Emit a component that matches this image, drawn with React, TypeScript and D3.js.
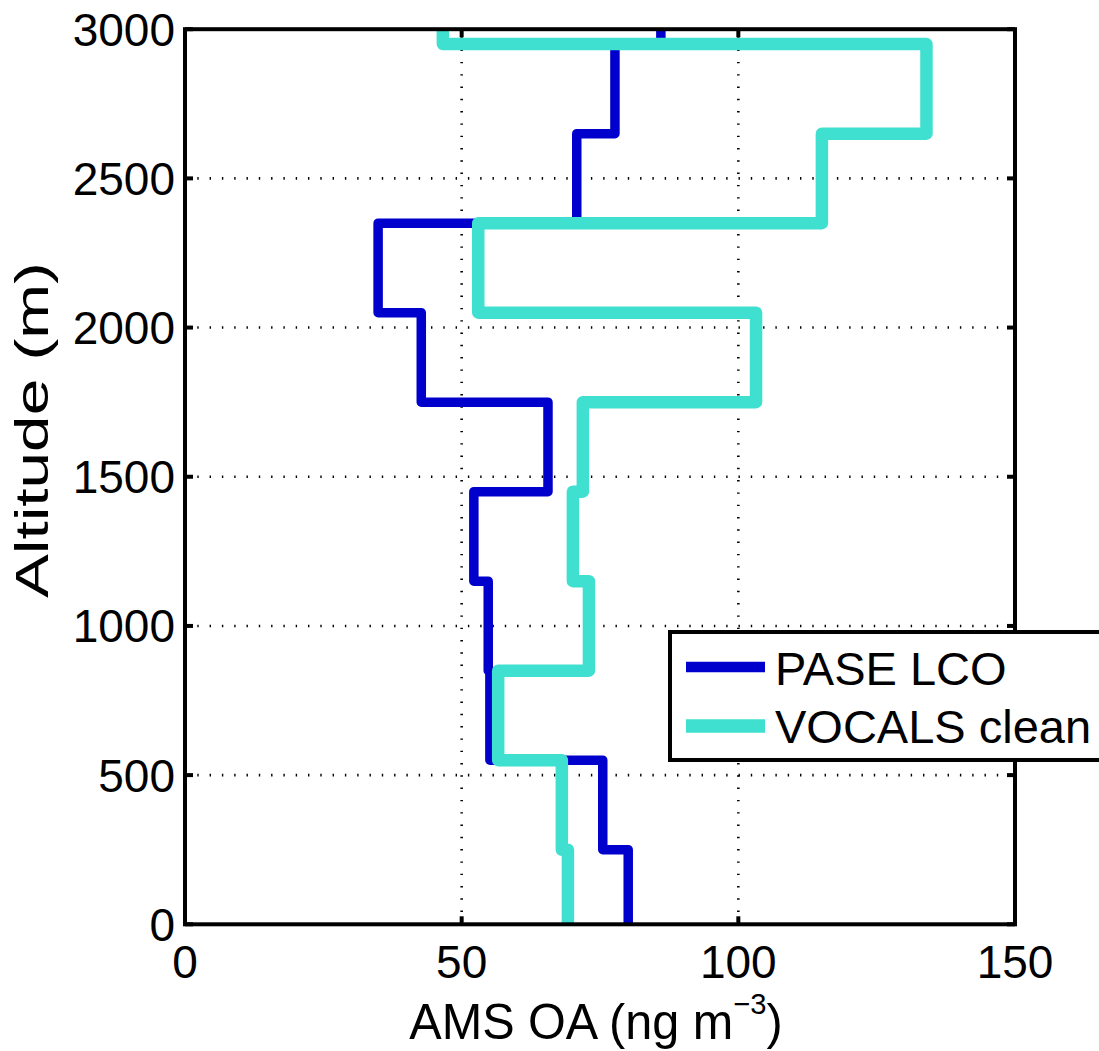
import React from 'react';
import * as d3 from 'd3';

// Altitude bin edges (m) and step values (ng m^-3) for each bin
const altitudeEdges = [0, 250, 550, 850, 1150, 1450, 1750, 2050, 2350, 2650, 2950, 3000];
const paseLCO = [80.1, 75.5, 55.1, 54.8, 52.2, 65.6, 42.7, 34.9, 70.8, 77.7, 86.0];
const vocalsClean = [69.2, 68.1, 56.6, 73.0, 70.1, 71.9, 103.2, 53.0, 115.1, 134.0, 46.6];
const xTicks = [0, 50, 100, 150];
const yTicks = [0, 500, 1000, 1500, 2000, 2500, 3000];
const seriesNames = ['PASE LCO', 'VOCALS clean'];
const seriesColors = ['#0000CD', '#40E0D0'];

const W = 1099;
const H = 1051;
const L = 185, R = 1015, T = 29.2, B = 924.3;
const FONT = '"Liberation Sans", Arial, Helvetica, sans-serif';

export default function App() {
  const x = d3.scaleLinear().domain([0, 150]).range([L, R]);
  const y = d3.scaleLinear().domain([0, 3000]).range([B, T]);

  const stairs = (vals: number[]) => {
    const pts: [number, number][] = [];
    vals.forEach((v, i) => {
      pts.push([v, altitudeEdges[i]]);
      pts.push([v, altitudeEdges[i + 1]]);
    });
    return d3.line<[number, number]>().x(d => x(d[0])).y(d => y(d[1]))(pts) || '';
  };

  const tickLen = 8;
  const widths = [9.5, 12.5];

  return (
    <svg width={W} height={H} style={{ position: 'absolute', left: 0, top: 0, background: '#fff' }}
      fontFamily={FONT}>
      <defs>
        <clipPath id="plotClip">
          <rect x={L} y={T} width={R - L} height={B - T} />
        </clipPath>
      </defs>
      <rect x={0} y={0} width={W} height={H} fill="#fff" />
      {/* grid */}
      <g stroke="#000" strokeWidth={2.6} strokeDasharray="1.4 10.9">
        {xTicks.slice(1, -1).map(t => (
          <line key={'gx' + t} x1={x(t)} x2={x(t)} y1={B} y2={T} />
        ))}
        {yTicks.slice(1, -1).map(t => (
          <line key={'gy' + t} x1={L} x2={R} y1={y(t)} y2={y(t)} />
        ))}
      </g>
      {/* data */}
      <g clipPath="url(#plotClip)" fill="none" strokeLinejoin="round" strokeLinecap="round">
        <path d={stairs(paseLCO)} stroke={seriesColors[0]} strokeWidth={widths[0]} />
        <path d={stairs(vocalsClean)} stroke={seriesColors[1]} strokeWidth={widths[1]} />
      </g>
      {/* axes box and ticks */}
      <g stroke="#000" strokeWidth={4}>
        <rect x={L} y={T} width={R - L} height={B - T} fill="none" />
        {xTicks.map(t => (
          <g key={'tx' + t}>
            <line x1={x(t)} x2={x(t)} y1={B} y2={B - tickLen} />
            <line x1={x(t)} x2={x(t)} y1={T} y2={T + tickLen} />
          </g>
        ))}
        {yTicks.map(t => (
          <g key={'ty' + t}>
            <line x1={L} x2={L + tickLen} y1={y(t)} y2={y(t)} />
            <line x1={R} x2={R - tickLen} y1={y(t)} y2={y(t)} />
          </g>
        ))}
      </g>
      {/* tick labels */}
      <g fontSize={46} fill="#000">
        {xTicks.map(t => (
          <text key={'lx' + t} x={x(t)} y={978} textAnchor="middle">{t}</text>
        ))}
        {yTicks.map(t => (
          <text key={'ly' + t} x={175} y={y(t) + 16.5} textAnchor="end">{t}</text>
        ))}
      </g>
      {/* axis labels */}
      <g transform="translate(596,1039) scale(1.08,1.1)">
        <text x={0} y={0} fontSize={45} textAnchor="middle" fill="#000">
          AMS OA (ng m<tspan dy={-23} fontSize={27}>−3</tspan><tspan dy={23}>)</tspan>
        </text>
      </g>
      <text transform="translate(48,430) rotate(-90)" x={0} y={0} fontSize={47} textAnchor="middle"
        textLength={336} lengthAdjust="spacingAndGlyphs" fill="#000">Altitude (m)</text>
      {/* legend */}
      <g>
        <rect x={670} y={632} width={460} height={128} fill="#fff" stroke="#000" strokeWidth={4} />
        {seriesNames.map((n, i) => (
          <g key={n}>
            <line x1={686} x2={765} y1={667 + i * 59} y2={667 + i * 59}
              stroke={seriesColors[i]} strokeWidth={widths[i] + 1} />
            <text x={775} y={685 + i * 58} fontSize={47} fill="#000">{n}</text>
          </g>
        ))}
      </g>
    </svg>
  );
}
